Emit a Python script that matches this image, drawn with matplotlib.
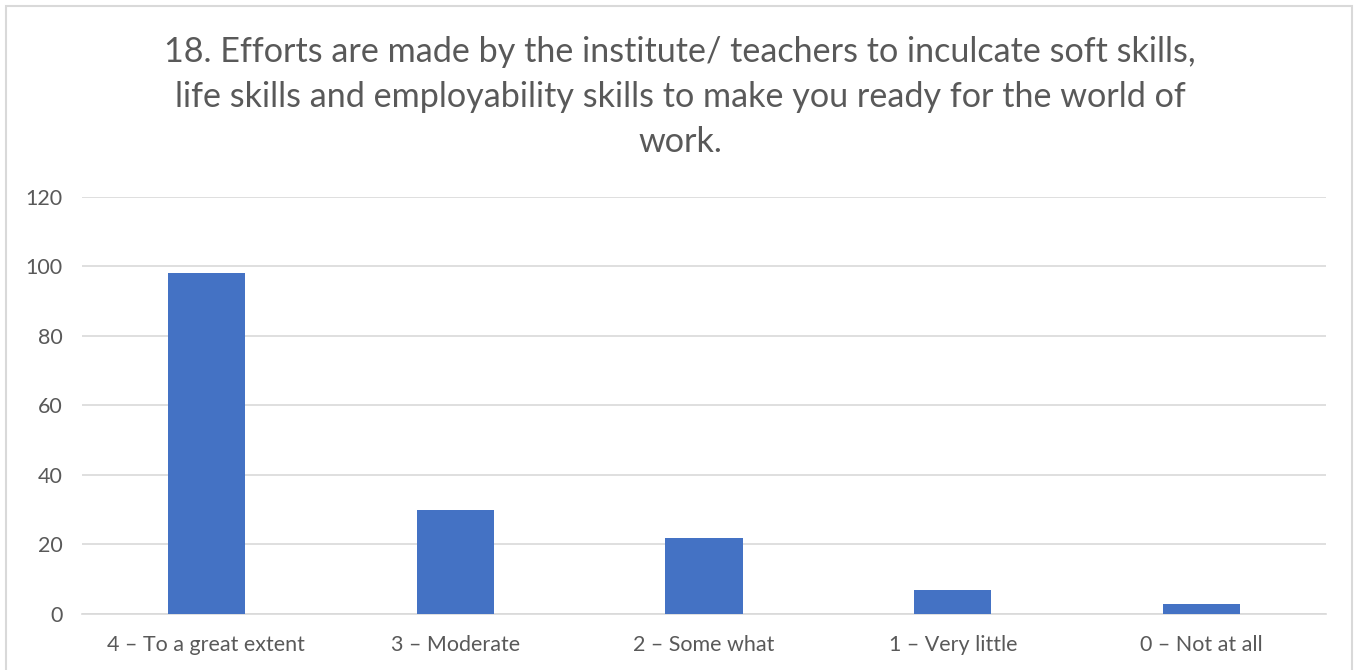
import matplotlib.pyplot as plt
from matplotlib.patches import Rectangle
import numpy as np

plt.rcParams['font.family'] = ['Lato', 'DejaVu Sans']

categories = ['4 – To a great extent', '3 – Moderate', '2 – Some what',
              '1 – Very little', '0 – Not at all']
counts = [98, 30, 22, 7, 3]
yticks = [0, 20, 40, 60, 80, 100, 120]
title = ('18. Efforts are made by the institute/ teachers to inculcate soft skills,\n'
         'life skills and employability skills to make you ready for the world of\n'
         'work.')

text_color = '#595959'
grid_color = '#D9D9D9'
bar_color = '#4472C4'

fig = plt.figure(figsize=(13.6, 6.7), dpi=100)
ax = fig.add_axes([0.0603, 0.0836, 0.9147, 0.6224])

x = np.arange(len(categories))
ax.bar(x, counts, width=0.31, color=bar_color, zorder=3)

ax.set_xlim(-0.5, len(categories) - 0.5)
ax.set_ylim(0, 120)
ax.set_yticks(yticks)
ax.set_xticks(x)
ax.set_xticklabels(categories)
ax.grid(axis='y', color=grid_color, linewidth=1.2, zorder=0)
for s in ['top', 'right', 'left']:
    ax.spines[s].set_visible(False)
ax.spines['bottom'].set_color(grid_color)
ax.spines['bottom'].set_linewidth(1.2)
ax.tick_params(axis='both', length=0, labelsize=15.5, colors=text_color)
ax.tick_params(axis='y', pad=14)
ax.tick_params(axis='x', pad=15)

fig.text(0.5, 0.947, title, ha='center', va='top', fontsize=24.6,
         color=text_color, linespacing=1.5)

# chart frame
fig.patches.append(Rectangle((6 / 1360, -0.05), 1346 / 1360, 1.05 - 6 / 670,
                             transform=fig.transFigure, fill=False,
                             edgecolor=grid_color, linewidth=1.5))

fig.savefig('out.png', dpi=100)
